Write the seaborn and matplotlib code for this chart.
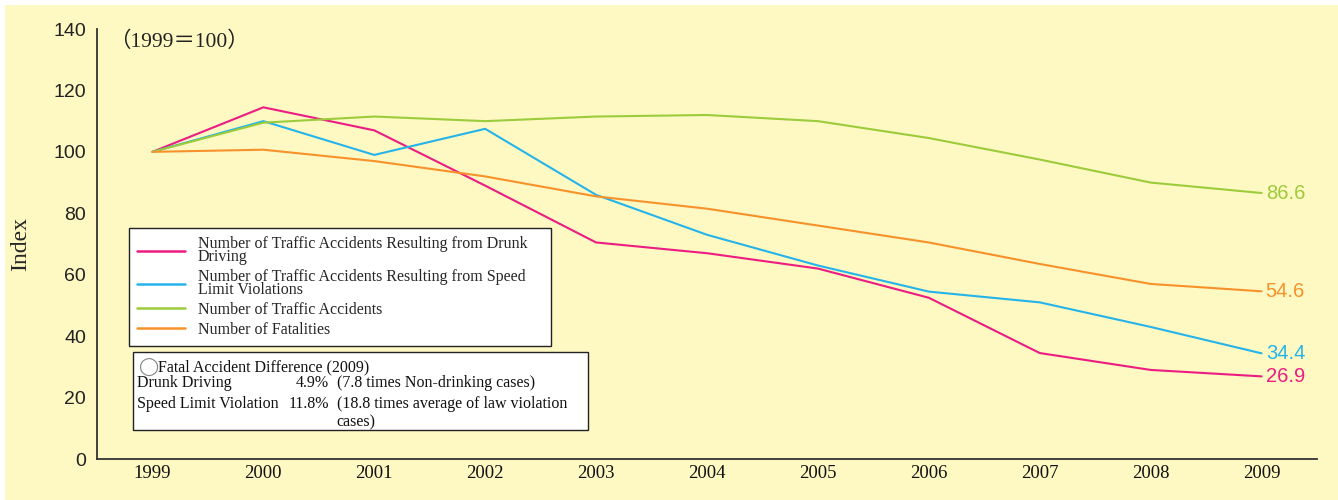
import matplotlib
matplotlib.use("Agg")
import matplotlib.pyplot as plt
import seaborn as sns
import pandas as pd
import numpy as np
from matplotlib.patches import Rectangle
from matplotlib.lines import Line2D

years = ["1999", "2000", "2001", "2002", "2003", "2004", "2005", "2006", "2007", "2008", "2009"]
drunk = [100, 114.5, 107, 89, 70.5, 67, 62, 52.5, 34.5, 29, 26.9]
speed = [100, 110, 99, 107.5, 86, 73, 63, 54.5, 51, 43, 34.4]
accidents = [100, 109.5, 111.5, 110, 111.5, 112, 110, 104.5, 97.5, 90, 86.6]
fatalities = [100, 100.7, 97, 92, 85.5, 81.5, 76, 70.5, 63.5, 57, 54.6]

series_names = [
    "Number of Traffic Accidents Resulting from Drunk\nDriving",
    "Number of Traffic Accidents Resulting from Speed\nLimit Violations",
    "Number of Traffic Accidents",
    "Number of Fatalities",
]
series_values = [drunk, speed, accidents, fatalities]
colors = ["#EC1C82", "#25B4EA", "#9CCB3C", "#F7922B"]

rows = []
for name, vals in zip(series_names, series_values):
    for i, (yr, v) in enumerate(zip(years, vals)):
        rows.append({"idx": i, "year": yr, "value": v, "series": name})
df = pd.DataFrame(rows)

sns.set_style("white")
plt.rcParams["font.family"] = ["Liberation Serif", "DejaVu Sans"]

bg = "#FEF8C3"
fig = plt.figure(figsize=(13.38, 5.0), dpi=100)
fig.patch.set_facecolor("white")
fig.add_artist(Rectangle((5 / 1338, 0), 1 - 5 / 1338, 1 - 5 / 500, transform=fig.transFigure,
                         facecolor=bg, edgecolor="none", zorder=-10))
ax = fig.add_axes([97 / 1338, 1 - 459 / 500, (1317 - 97) / 1338, (459 - 29) / 500])
ax.set_facecolor(bg)
ax.patch.set_alpha(0)

sns.lineplot(data=df, x="idx", y="value", hue="series", hue_order=series_names,
             palette=colors, linewidth=1.5, ax=ax, legend=False)

ax.set_xlim(-0.5, 10.5)
ax.set_ylim(0, 140)
ax.set_yticks(np.arange(0, 141, 20))
ax.set_yticklabels([str(v) for v in range(0, 141, 20)], family=["Liberation Sans", "DejaVu Sans"],
                   fontsize=14, color="#222222")
ax.set_xticks(range(len(years)))
ax.set_xticklabels(years, fontsize=13.5, color="#111111")
ax.set_xticks(np.arange(0.5, 10.6, 1), minor=True)
ax.tick_params(axis="x", which="major", length=0, pad=4)
ax.tick_params(axis="x", which="minor", direction="in", length=8, width=1.2, color="#333333")
ax.tick_params(axis="y", which="major", direction="out", length=6, width=1.2, color="#333333", pad=2)
for s in ["top", "right"]:
    ax.spines[s].set_visible(False)
for s in ["left", "bottom"]:
    ax.spines[s].set_color("#333333")
    ax.spines[s].set_linewidth(1.3)
ax.set_xlabel("")
ax.set_ylabel("Index", fontsize=17, labelpad=16)

# end labels
for vals, c in zip(series_values, colors):
    ax.annotate(f"{vals[-1]:.1f}", xy=(10, vals[-1]), xytext=(3, 0), textcoords="offset points",
                va="center", ha="left", fontsize=14.5, color=c,
                family=["Liberation Sans", "DejaVu Sans"])

ax.text(0.01, 0.97, "（1999＝100）", transform=ax.transAxes, fontsize=15.5, va="center", ha="left",
        family=["Liberation Serif", "Noto Sans CJK JP"], color="#222222")

# legend
handles = [Line2D([0], [0], color=c, lw=1.8) for c in colors]
leg = ax.legend(handles, series_names, loc="upper left",
                bbox_to_anchor=(0.0262, 0.265, 0.346, 0.272), mode="expand",
                frameon=True, fancybox=False, handlelength=3.0,
                handletextpad=0.8, labelspacing=0.25, borderpad=0.5, borderaxespad=0,
                prop={"family": "Liberation Serif", "size": 11.5})
leg.get_frame().set_edgecolor("#222222")
leg.get_frame().set_linewidth(1.0)
leg.get_frame().set_facecolor("white")
leg.get_frame().set_alpha(1)
for t in leg.get_texts():
    t.set_linespacing(0.75)

# annotation box
x0, x1 = 0.0295, 0.4025
y0, y1 = 0.0674, 0.249
ax.add_patch(Rectangle((x0, y0), x1 - x0, y1 - y0, transform=ax.transAxes, facecolor="white",
                       edgecolor="#222222", linewidth=1.0, zorder=5))
def px(x):
    return (x - 97) / 1220
def py(y):
    return (459 - y) / 430
tf = dict(transform=ax.transAxes, fontsize=11.5, va="center", zorder=6, color="#111111")
ax.text(px(138), py(367), "◯", family=["DejaVu Sans"], fontsize=13, color="#888888",
        transform=ax.transAxes, va="center", zorder=6)
ax.text(px(158), py(367), "Fatal Accident Difference (2009)", ha="left", **tf)
ax.text(px(137), py(383), "Drunk Driving", ha="left", **tf)
ax.text(px(329), py(383), "4.9%", ha="right", **tf)
ax.text(px(337), py(383), "(7.8 times Non-drinking cases)", ha="left", **tf)
ax.text(px(137), py(404), "Speed Limit Violation", ha="left", **tf)
ax.text(px(329), py(404), "11.8%", ha="right", **tf)
ax.text(px(337), py(404), "(18.8 times average of law violation", ha="left", **tf)
ax.text(px(356), py(422), "cases)", ha="center", **tf)

fig.savefig("out.png", dpi=100, facecolor=fig.get_facecolor())
